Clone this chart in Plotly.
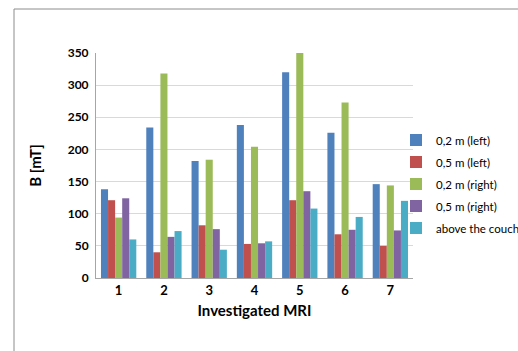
import plotly.graph_objects as go

categories = ["1", "2", "3", "4", "5", "6", "7"]
s_02_left = [138, 234, 182, 238, 320, 226, 146]
s_05_left = [121, 40, 82, 53, 121, 68, 50]
s_02_right = [94, 318, 184, 204, 350, 273, 144]
s_05_right = [124, 64, 76, 54, 135, 75, 74]
s_couch = [60, 73, 44, 57, 108, 95, 120]

series_names = ["0,2 m (left)", "0,5 m (left)", "0,2 m (right)", "0,5 m (right)", "above the couch"]
series_values = [s_02_left, s_05_left, s_02_right, s_05_right, s_couch]
colors = ["#4F81BD", "#C0504D", "#9BBB59", "#8064A2", "#4BACC6"]

FONT = "Lato"

fig = go.Figure()
for name, vals, col in zip(series_names, series_values, colors):
    fig.add_trace(go.Bar(x=categories, y=vals, name=name, legendgroup=name,
                         marker=dict(color=col, line=dict(width=0))))

W, H = 518, 351
L, R, T, B = 96, 105, 53, 73
pw, ph = W - L - R, H - T - B

def px_x(x):  # page coords -> paper
    return (x - L) / pw

def px_y(y):
    return (H - B - y) / ph

fig.update_layout(
    width=W, height=H,
    margin=dict(l=L, r=R, t=T, b=B, autoexpand=False),
    paper_bgcolor="white", plot_bgcolor="white",
    barmode="group", bargap=0.22, bargroupgap=0,
    font=dict(family=FONT, color="#000000"),
    showlegend=True,
    legend=dict(x=px_x(396), y=px_y(184), xanchor="left", yanchor="middle",
                font=dict(size=11.5, family=FONT), itemwidth=30, tracegroupgap=3,
                bgcolor="rgba(0,0,0,0)", borderwidth=0),
    xaxis=dict(
        title=dict(text="<b>Investigated MRI</b>", font=dict(size=15, family=FONT), standoff=8),
        tickfont=dict(size=13, family=FONT), tickprefix="<b>", ticksuffix="</b>",
        showline=True, linecolor="#A6A6A6", linewidth=1, ticks="", showgrid=False,
    ),
    yaxis=dict(
        title=dict(text="<b>B [mT]</b>", font=dict(size=15, family=FONT), standoff=22),
        tickfont=dict(size=12, family=FONT), tickprefix="<b>", ticksuffix="</b>",
        ticklabelstandoff=4,
        range=[0, 350], dtick=50, showgrid=True, gridcolor="#D9D9D9", gridwidth=1,
        showline=True, linecolor="#A6A6A6", linewidth=1, ticks="", zeroline=False,
    ),
    shapes=[
        dict(type="line", xref="paper", yref="paper", x0=px_x(14), x1=px_x(530), y0=px_y(9), y1=px_y(9),
             line=dict(color="#8C8C8C", width=1)),
        dict(type="line", xref="paper", yref="paper", x0=px_x(14), x1=px_x(14), y0=px_y(9), y1=px_y(360),
             line=dict(color="#8C8C8C", width=1)),
    ],
)

fig.write_html("out.html", config={"displayModeBar": False},
               post_script="document.body.style.margin='0';document.body.style.overflow='hidden';")
